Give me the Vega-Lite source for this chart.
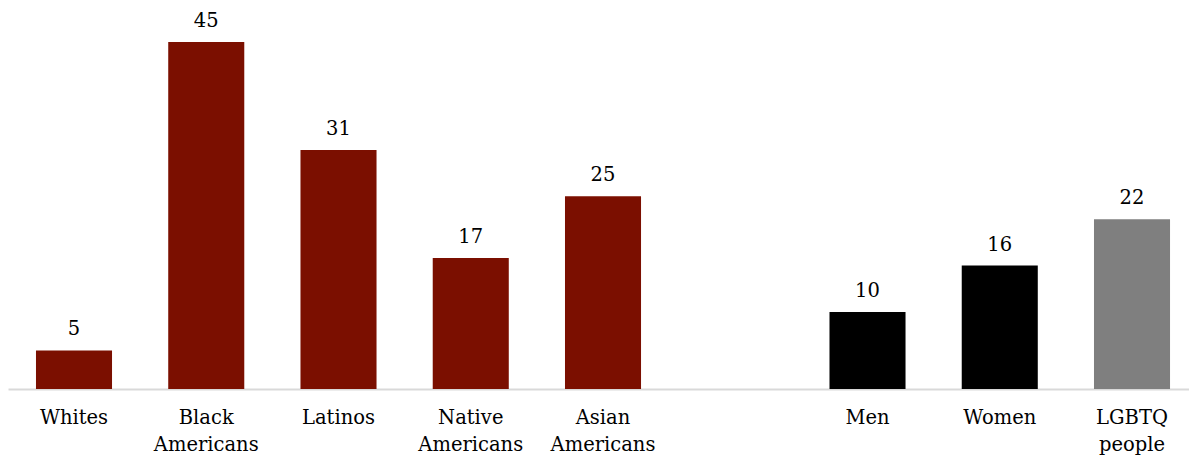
{
  "$schema": "https://vega.github.io/schema/vega-lite/v6.json",
  "autosize": "none",
  "width": 1181,
  "height": 347,
  "padding": {"left": 8, "top": 42, "right": 0, "bottom": 67},
  "background": "white",
  "config": {"view": {"stroke": null}, "font": "DejaVu Serif"},
  "data": {"values": [
    {"key": "Whites", "value": 5, "group": "race"},
    {"key": "Black|Americans", "value": 45, "group": "race"},
    {"key": "Latinos", "value": 31, "group": "race"},
    {"key": "Native|Americans", "value": 17, "group": "race"},
    {"key": "Asian|Americans", "value": 25, "group": "race"},
    {"key": "Men", "value": 10, "group": "gender"},
    {"key": "Women", "value": 16, "group": "gender"},
    {"key": "LGBTQ|people", "value": 22, "group": "lgbtq"}
  ]},
  "encoding": {
    "x": {
      "field": "key", "type": "nominal", "sort": null,
      "scale": {
        "domain": ["Whites", "Black|Americans", "Latinos", "Native|Americans", "Asian|Americans", "gap", "Men", "Women", "LGBTQ|people"],
        "paddingInner": 0.425, "paddingOuter": 0.1775, "align": 0.596
      },
      "axis": {
        "title": null, "labelAngle": 0, "ticks": false, "domainColor": "#D9D9D9", "domainWidth": 2,
        "labelFont": "DejaVu Serif", "labelFontSize": 19.5, "labelColor": "#000000",
        "labelPadding": 19, "labelLineHeight": 27,
        "labelExpr": "datum.label == 'gap' ? '' : split(datum.label, '|')"
      }
    },
    "y": {
      "field": "value", "type": "quantitative",
      "scale": {"domain": [0, 45], "nice": false, "zero": true},
      "axis": null
    }
  },
  "layer": [
    {
      "mark": {"type": "bar"},
      "encoding": {
        "color": {
          "field": "group", "type": "nominal",
          "scale": {"domain": ["race", "gender", "lgbtq"], "range": ["#7B0F00", "#000000", "#7F7F7F"]},
          "legend": null
        }
      }
    },
    {
      "mark": {"type": "text", "baseline": "alphabetic", "dy": -15, "fontSize": 19.5, "font": "DejaVu Serif", "color": "#000000"},
      "encoding": {"text": {"field": "value", "type": "quantitative"}}
    }
  ]
}
